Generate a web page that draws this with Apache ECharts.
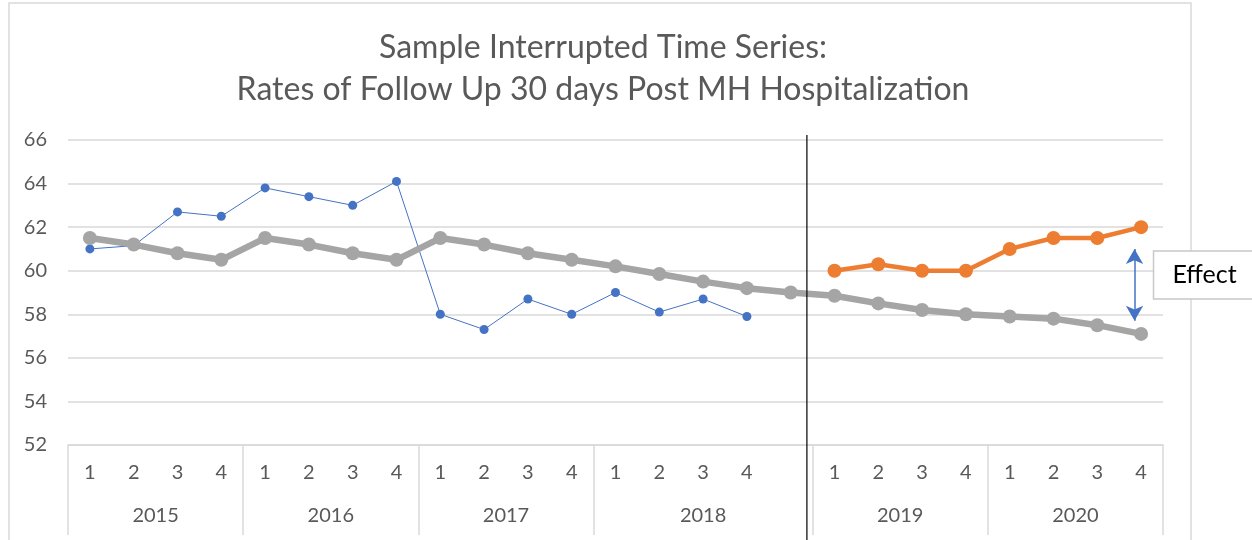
<!DOCTYPE html>
<html>
<head>
<meta charset="utf-8">
<script src="https://cdn.jsdelivr.net/npm/echarts@6/dist/echarts.min.js"></script>
<style>html,body{margin:0;padding:0;background:#fff}#c{width:1252px;height:540px}</style>
</head>
<body>
<div id="c"></div>
<script>
const quarterLabels = ['1','2','3','4','1','2','3','4','1','2','3','4','1','2','3','4','','1','2','3','4','1','2','3','4'];
const yearLabels = ['2015','2016','2017','2018','2019','2020'];
const yearBoundaries = [-0.5, 3.5, 7.5, 11.5, 16.5, 20.5, 24.5];
const yearCenters = [1.5, 5.5, 9.5, 14, 18.5, 22.5];
const observed = [61.0,61.15,62.7,62.5,63.8,63.4,63.0,64.1,58.0,57.3,58.7,58.0,59.0,58.1,58.7,57.9,null,null,null,null,null,null,null,null,null];
const trend = [61.5,61.2,60.8,60.5,61.5,61.2,60.8,60.5,61.5,61.2,60.8,60.5,60.2,59.85,59.5,59.2,59.0,58.85,58.5,58.2,58.0,57.9,57.8,57.5,57.1];
const intervention = [null,null,null,null,null,null,null,null,null,null,null,null,null,null,null,null,null,60.0,60.3,60.0,60.0,61.0,61.5,61.5,62.0];
const interruptionAt = 16.37;
const effectAt = 23.85;
const effectRange = [61.0, 57.7];

const chart = echarts.init(document.getElementById('c'));
const FONT = 'Lato';
const GREY_TXT = '#595959';
chart.setOption({
  animation: false,
  title: {
    text: 'Sample Interrupted Time Series:\nRates of Follow Up 30 days Post MH Hospitalization',
    left: 598, textAlign: 'center', top: 22,
    textStyle: {fontFamily: FONT, fontSize: 32, fontWeight: 'normal', color: GREY_TXT, lineHeight: 42}
  },
  grid: {left: 68, right: 89, top: 140, bottom: 95},
  xAxis: [{
    type: 'category', data: quarterLabels, boundaryGap: true, position: 'bottom',
    axisLine: {show: true, lineStyle: {color: '#d9d9d9', width: 1.5}},
    axisTick: {show: false},
    axisLabel: {fontFamily: FONT, fontSize: 20, color: GREY_TXT, margin: 18, interval: 0}
  }, {
    type: 'value', min: -0.5, max: 24.5, position: 'bottom', offset: 0,
    splitLine: {show: false},
    axisLine: {show: false},
    axisTick: {show: true, customValues: yearBoundaries, length: 90, lineStyle: {color: '#d9d9d9', width: 1.5}},
    axisLabel: {show: true, customValues: yearCenters, margin: 61, fontFamily: FONT, fontSize: 20, color: GREY_TXT,
      formatter: function (v) { const i = yearCenters.indexOf(v); return i >= 0 ? yearLabels[i] : ''; }}
  }],
  yAxis: {
    type: 'value', min: 52, max: 66, interval: 2,
    axisLine: {show: false}, axisTick: {show: false},
    axisLabel: {fontFamily: FONT, fontSize: 20, color: GREY_TXT, margin: 21},
    splitLine: {lineStyle: {color: '#d9d9d9', width: 1.5}}
  },
  series: [{
    name: 'Observed', type: 'line', data: observed, z: 2,
    lineStyle: {color: '#4472c4', width: 1}, itemStyle: {color: '#4472c4'},
    symbol: 'circle', symbolSize: 9, connectNulls: false
  }, {
    name: 'Trend', type: 'line', data: trend, z: 3,
    lineStyle: {color: '#a5a5a5', width: 6.5}, itemStyle: {color: '#a5a5a5'},
    symbol: 'circle', symbolSize: 14
  }, {
    name: 'Intervention', type: 'line', data: intervention, z: 4,
    lineStyle: {color: '#ed7d31', width: 4.5}, itemStyle: {color: '#ed7d31'},
    symbol: 'circle', symbolSize: 14
  }, {
    name: 'EffectArrow', type: 'line', xAxisIndex: 1, data: [], silent: true,
    markLine: {
      silent: true, symbol: ['arrow', 'arrow'], symbolSize: [13, 15],
      label: {show: false},
      lineStyle: {color: '#4472c4', width: 1.5, type: 'solid'},
      data: [[{coord: [effectAt, effectRange[0]]}, {coord: [effectAt, effectRange[1]]}]]
    }
  }]
});

const xTop = chart.convertToPixel({xAxisIndex: 1, yAxisIndex: 0}, [interruptionAt, 66]);
const ax = chart.convertToPixel({xAxisIndex: 1, yAxisIndex: 0}, [effectAt, (effectRange[0] + effectRange[1]) / 2]);
chart.setOption({
  graphic: [
    {type: 'rect', shape: {x: 9, y: 3, width: 1182, height: 560}, style: {fill: 'none', stroke: '#d9d9d9', lineWidth: 1.5}, z: -10, silent: true},
    {type: 'line', shape: {x1: xTop[0], y1: xTop[1] - 5, x2: xTop[0], y2: 540}, style: {stroke: '#000', lineWidth: 1.2}, z: 10},
    {type: 'rect', shape: {x: ax[0] + 19, y: ax[1] - 34, width: 110, height: 48}, style: {fill: '#fff', stroke: '#c8c8c8', lineWidth: 1.5}, z: 20},
    {type: 'text', x: ax[0] + 70, y: ax[1] - 10, style: {text: 'Effect', fontFamily: FONT, fontSize: 25, fill: '#000', align: 'center', verticalAlign: 'middle'}, z: 21}
  ]
});
</script>
</body>
</html>
